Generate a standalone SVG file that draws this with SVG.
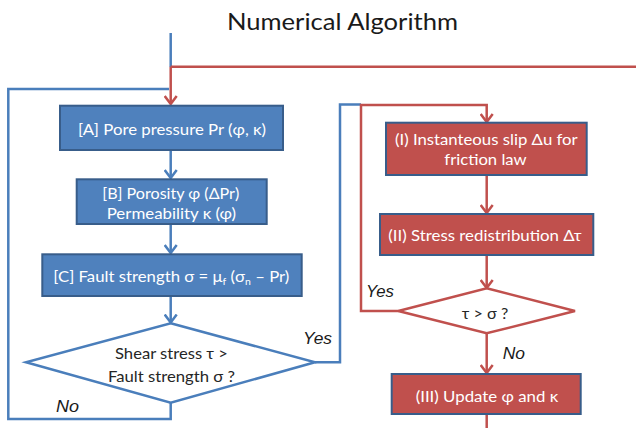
<svg xmlns="http://www.w3.org/2000/svg" width="636" height="428" viewBox="0 0 636 428">
  <style>
    text { font-family: Lato, "Open Sans", "Liberation Sans", sans-serif; }
    .title { font-size: 23px; fill: #1a1a1a; }
    .box-blue { fill: #4F81BD; stroke: #385D8A; stroke-width: 2; }
    .box-red { fill: #C0504D; stroke: #385D8A; stroke-width: 2; }
    .lbl { font-size: 16px; fill: #ffffff; }
    .dlbl { font-size: 16px; fill: #262626; }
    .yn { font-size: 16px; fill: #1a1a1a; font-style: italic; font-family: "Liberation Sans", Arial, sans-serif; }
    .dia-blue { fill: #ffffff; stroke: #4A7EBB; stroke-width: 2.5; }
    .dia-red { fill: #ffffff; stroke: #C0504D; stroke-width: 2.5; }
    .c-blue { fill: none; stroke: #4A7EBB; stroke-width: 2.5; }
    .c-red { fill: none; stroke: #C0504D; stroke-width: 2.5; }
  </style>
  <defs>
    <marker id="ah-blue" markerUnits="userSpaceOnUse" viewBox="0 0 10 14" refX="9" refY="7" markerWidth="10" markerHeight="14" orient="auto">
      <path d="M1,1 L9,7 L1,13" fill="none" stroke="#4A7EBB" stroke-width="2.5"/>
    </marker>
    <marker id="ah-red" markerUnits="userSpaceOnUse" viewBox="0 0 10 14" refX="9" refY="7" markerWidth="10" markerHeight="14" orient="auto">
      <path d="M1,1 L9,7 L1,13" fill="none" stroke="#C0504D" stroke-width="2.5"/>
    </marker>
  </defs>

  <rect width="636" height="428" fill="#ffffff"/>

  <text class="title" x="227" y="29.5" textLength="231" lengthAdjust="spacingAndGlyphs">Numerical Algorithm</text>

  <!-- connectors -->
  <g id="connectors">
    <!-- entry line and loop-back -->
    <path class="c-blue" d="M170.7,33 V67"/>
    <path class="c-red" d="M170.7,66.7 H636"/>
    <path class="c-red" d="M170.7,66.7 V104" marker-end="url(#ah-red)"/>
    <path class="c-blue" d="M170.7,402.7 V419 H8.3 V89 H169"/>
    <path class="c-blue" d="M170.7,150 V178" marker-end="url(#ah-blue)"/>
    <path class="c-blue" d="M170.7,224 V253" marker-end="url(#ah-blue)"/>
    <path class="c-blue" d="M170.7,296 V322.5" marker-end="url(#ah-blue)"/>
    <path class="c-blue" d="M315,362.3 H340 V104.5 H361"/>
    <!-- slip loop -->
    <path class="c-red" d="M398.3,311 H361 V105 H486.7 V122" marker-end="url(#ah-red)"/>
    <path class="c-red" d="M486.7,175 V213" marker-end="url(#ah-red)"/>
    <path class="c-red" d="M486.7,255 V288" marker-end="url(#ah-red)"/>
    <path class="c-red" d="M486.7,333.3 V373" marker-end="url(#ah-red)"/>
    <path class="c-red" d="M486.7,414 V428"/>
  </g>

  <g id="nodeA">
    <rect class="box-blue" x="60" y="105.7" width="223" height="44.3"/>
    <text class="lbl" x="78" y="135" textLength="188" lengthAdjust="spacingAndGlyphs">[A] Pore pressure Pr (φ, κ)</text>
  </g>

  <g id="nodeB">
    <rect class="box-blue" x="76.7" y="179.3" width="190" height="44.7"/>
    <text class="lbl" x="102.3" y="198.8" textLength="137" lengthAdjust="spacingAndGlyphs">[B] Porosity φ (ΔPr)</text>
    <text class="lbl" x="106.7" y="218.8" textLength="129.3" lengthAdjust="spacingAndGlyphs">Permeability κ (φ)</text>
  </g>

  <g id="nodeC">
    <rect class="box-blue" x="42.3" y="254.3" width="259.4" height="41.7"/>
    <text class="lbl" x="53.3" y="282" textLength="236" lengthAdjust="spacingAndGlyphs">[C] Fault strength σ = μ<tspan font-size="10" dy="3">f</tspan><tspan dy="-3"> (σ</tspan><tspan font-size="10" dy="3">n</tspan><tspan dy="-3"> – Pr)</tspan></text>
  </g>

  <g id="decision1">
    <polygon class="dia-blue" points="170.7,323.3 315,362.3 170.7,402.7 26,362.3"/>
    <text class="dlbl" x="115" y="358.8" textLength="113" lengthAdjust="spacingAndGlyphs">Shear stress τ &gt;</text>
    <text class="dlbl" x="108" y="382.2" textLength="127" lengthAdjust="spacingAndGlyphs">Fault strength σ ?</text>
  </g>

  <g id="labels-left">
    <text class="yn" x="303" y="343.5" textLength="29" lengthAdjust="spacingAndGlyphs">Yes</text>
    <text class="yn" x="56" y="412" textLength="23" lengthAdjust="spacingAndGlyphs">No</text>
  </g>

  <g id="nodeI">
    <rect class="box-red" x="386" y="122.7" width="200.7" height="52.3"/>
    <text class="lbl" x="395" y="144.5" textLength="182.7" lengthAdjust="spacingAndGlyphs">(I) Instanteous slip Δu for</text>
    <text class="lbl" x="444.3" y="164.5" textLength="82.4" lengthAdjust="spacingAndGlyphs">friction law</text>
  </g>

  <g id="nodeII">
    <rect class="box-red" x="380" y="214" width="213.3" height="41"/>
    <text class="lbl" x="388.3" y="240.5" textLength="193.4" lengthAdjust="spacingAndGlyphs">(II) Stress redistribution Δτ</text>
  </g>

  <g id="decision2">
    <polygon class="dia-red" points="486.7,288.3 575,311 486.7,333.3 398.3,311"/>
    <text class="dlbl" x="461.7" y="318.5" textLength="46.6" lengthAdjust="spacingAndGlyphs">τ &gt; σ ?</text>
  </g>

  <g id="labels-right">
    <text class="yn" x="366" y="297" textLength="28" lengthAdjust="spacingAndGlyphs">Yes</text>
    <text class="yn" x="502.7" y="359" textLength="22.3" lengthAdjust="spacingAndGlyphs">No</text>
  </g>

  <g id="nodeIII">
    <rect class="box-red" x="391.7" y="374" width="189" height="40"/>
    <text class="lbl" x="415.7" y="402" textLength="142.6" lengthAdjust="spacingAndGlyphs">(III) Update φ and κ</text>
  </g>
</svg>
